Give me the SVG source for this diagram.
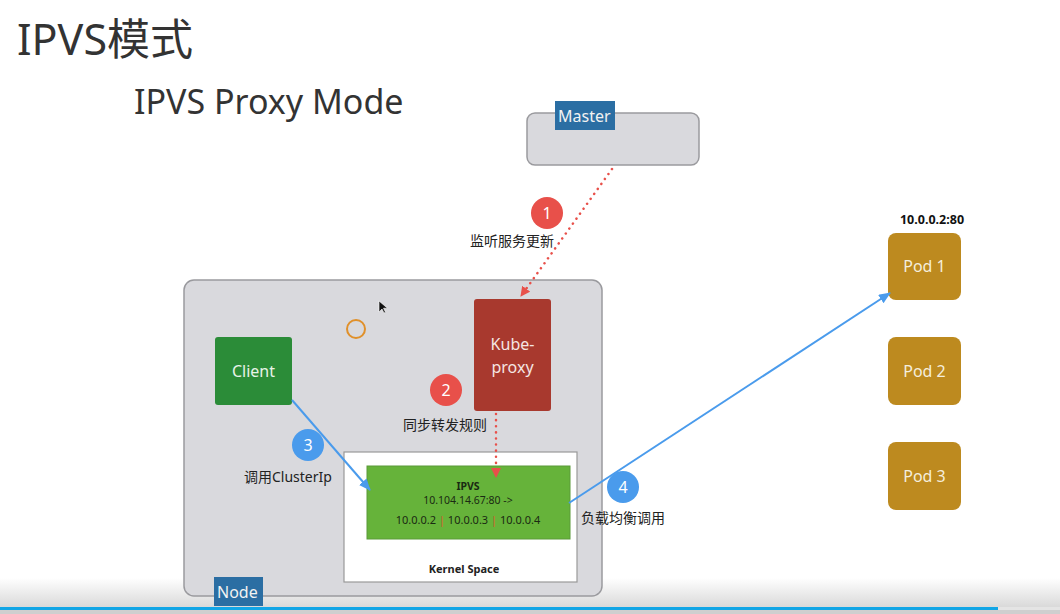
<svg xmlns="http://www.w3.org/2000/svg" width="1060" height="614" viewBox="0 0 1060 614">
<defs>
<style>
text{font-family:"Noto Sans","Noto Sans CJK SC",sans-serif}
.lbl{font-size:14px;fill:#222}
.box{fill:#d9d9dd;stroke:#9a9a9e;stroke-width:1.5}
.tag{fill:#2b6ea3}
.tagt{font-size:16px;fill:#f2f2f2}
.pod{fill:#bd8a1f}
.podt{font-size:16px;fill:#f5eedd;text-anchor:middle}
.num{font-size:16px;fill:#fff;text-anchor:middle}
.red{stroke:#e8504a;stroke-width:2.5;stroke-dasharray:0.1 6;stroke-linecap:round;fill:none}
.blue{stroke:#4a9bec;stroke-width:2;fill:none}
</style>
<marker id="ar" markerWidth="10" markerHeight="10" refX="9" refY="5" orient="auto" markerUnits="userSpaceOnUse"><path d="M0,0L10,5L0,10z" fill="#e8504a"/></marker>
<marker id="ab" markerWidth="12" markerHeight="10" refX="11" refY="5" orient="auto" markerUnits="userSpaceOnUse"><path d="M0,0L12,5L0,10z" fill="#4a9bec"/></marker>
<linearGradient id="bot" x1="0" y1="0" x2="0" y2="1"><stop offset="0" stop-color="#fff"/><stop offset="1" stop-color="#d8d8d8"/></linearGradient>
</defs>
<rect width="1060" height="614" fill="#fff"/>
<g id="player-bg">
<rect x="0" y="578" width="1060" height="30" fill="url(#bot)"/>
</g>
<g id="titles">
<text x="17" y="55" font-size="43" fill="#333">IPVS模式</text>
<text x="134" y="114" font-size="34" fill="#333">IPVS Proxy Mode</text>
</g>
<g id="node">
<rect class="box" x="184" y="280" width="418" height="316" rx="10"/>
<circle cx="356" cy="329" r="9" fill="none" stroke="#e0902a" stroke-width="2"/>
<path d="M379,301l0,11l3,-3l2,4l1.5,-0.8l-2,-4l4,0z" fill="#111" stroke="#fff" stroke-width="0.6"/>
</g>
<g id="master">
<rect class="box" x="527" y="113" width="172" height="52" rx="8"/>
<rect class="tag" x="555" y="101" width="60" height="29"/>
<text class="tagt" x="558" y="122">Master</text>
</g>
<g id="client">
<rect x="215" y="337" width="77" height="68" rx="3" fill="#2b8c38"/>
<text x="253.5" y="377" font-size="16" fill="#e8f3e8" text-anchor="middle">Client</text>
</g>
<g id="kube-proxy">
<rect x="474" y="299" width="77" height="112" rx="3" fill="#a8392e"/>
<text x="512.5" y="350" font-size="16" fill="#f5e6e3" text-anchor="middle">Kube-</text>
<text x="512.5" y="373" font-size="16" fill="#f5e6e3" text-anchor="middle">proxy</text>
</g>
<g id="kernel-space">
<rect x="344" y="452" width="233" height="130" fill="#fff" stroke="#999" stroke-width="1.2"/>
<text x="464" y="573" font-size="11" font-weight="bold" fill="#222" text-anchor="middle">Kernel Space</text>
</g>
<g id="ipvs">
<rect x="367" y="466" width="203" height="73" fill="#66b33a" stroke="#5a9a38" stroke-width="1"/>
<text x="468" y="490" font-size="10.5" font-weight="bold" fill="#1a2a12" text-anchor="middle">IPVS</text>
<text x="468" y="504" font-size="10.5" fill="#1a2a12" text-anchor="middle">10.104.14.67:80 -&gt;</text>
<text x="468" y="524" font-size="11" fill="#1a2a12" text-anchor="middle">10.0.0.2 <tspan fill="#d0502a">|</tspan> 10.0.0.3 <tspan fill="#d0502a">|</tspan> 10.0.0.4</text>
</g>
<g id="node-tag">
<rect class="tag" x="214" y="577" width="49" height="29"/>
<text class="tagt" x="217" y="598">Node</text>
</g>
<g id="pod1">
<text x="932" y="224" font-size="12.5" font-weight="bold" fill="#111" text-anchor="middle">10.0.0.2:80</text>
<rect class="pod" x="888" y="233" width="73" height="67" rx="8"/>
<text class="podt" x="924.5" y="272">Pod 1</text>
</g>
<g id="pod2">
<rect class="pod" x="888" y="337" width="73" height="68" rx="8"/>
<text class="podt" x="924.5" y="377">Pod 2</text>
</g>
<g id="pod3">
<rect class="pod" x="888" y="442" width="73" height="68" rx="8"/>
<text class="podt" x="924.5" y="482">Pod 3</text>
</g>
<g id="connectors">
<path class="red" d="M612,169L521,296" marker-end="url(#ar)"/>
<path class="red" d="M496,414L496,477" marker-end="url(#ar)"/>
<path class="blue" d="M292,400L370,490" marker-end="url(#ab)"/>
<path class="blue" d="M569,503L890,293" marker-end="url(#ab)"/>
</g>
<g id="steps">
<circle cx="547" cy="213" r="16" fill="#e8504a"/>
<text class="num" x="547" y="219">1</text>
<text class="lbl" x="470" y="246">监听服务更新</text>
<circle cx="446" cy="390" r="16" fill="#e8504a"/>
<text class="num" x="446" y="396">2</text>
<text class="lbl" x="403" y="430">同步转发规则</text>
<circle cx="308" cy="445" r="16" fill="#4a9bec"/>
<text class="num" x="308" y="451">3</text>
<text class="lbl" x="244" y="482">调用ClusterIp</text>
<circle cx="623" cy="487" r="16" fill="#4a9bec"/>
<text class="num" x="623" y="493">4</text>
<text class="lbl" x="581" y="523">负载均衡调用</text>
</g>
<g id="player-bar">
<rect x="0" y="608" width="1060" height="6" fill="#cfcfcf"/>
<rect x="0" y="607" width="998" height="3" fill="#12a6e6"/>
<rect x="998" y="607" width="62" height="3" fill="#e4e4e4"/>
</g>
</svg>
